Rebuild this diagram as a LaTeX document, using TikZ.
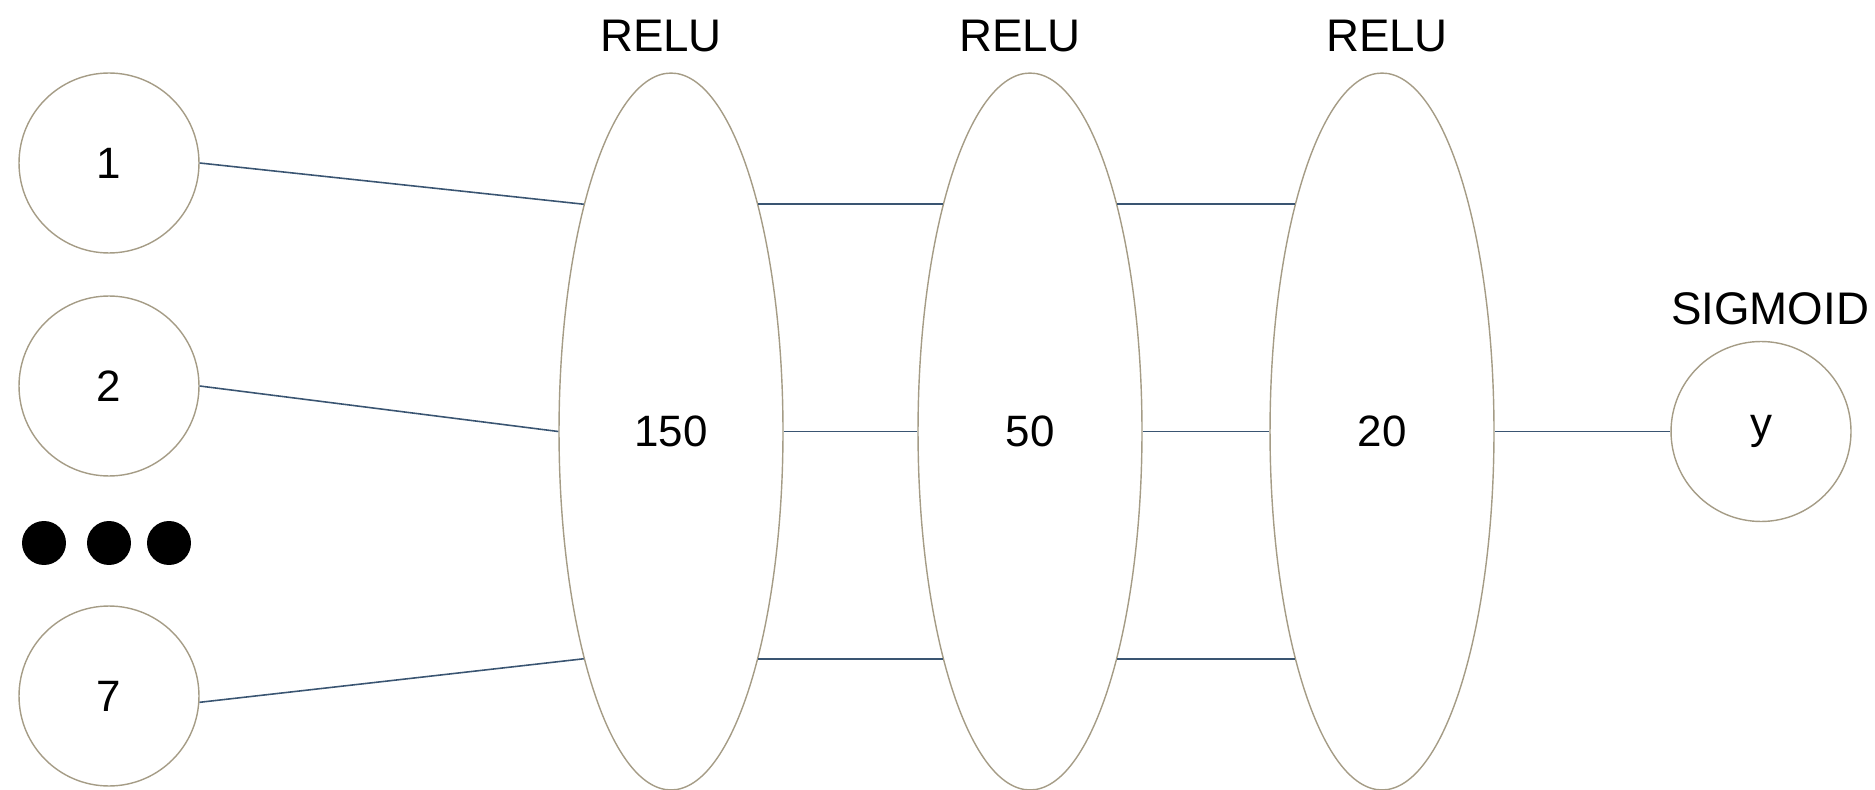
\documentclass[tikz,border=0pt]{standalone}
\usepackage{fontspec}
\setmainfont{Liberation Sans}
\usetikzlibrary{shapes.geometric}
\definecolor{rim}{HTML}{A59C86}
\definecolor{wire}{HTML}{3A5572}
\begin{document}
\begin{tikzpicture}[x=0.02cm,y=-0.02cm,
  inpt/.style={circle,draw=rim,line width=0.8pt,minimum size=3.6cm,inner sep=0pt,font=\fontsize{25}{30}\selectfont},
  layer/.style={ellipse,draw=rim,line width=0.8pt,minimum width=4.48cm,minimum height=14.34cm,inner sep=0pt,font=\fontsize{25}{30}\selectfont},
  dot/.style={circle,fill=black,minimum size=0.88cm,inner sep=0pt},
  lbl/.style={inner sep=0pt,font=\fontsize{26}{30}\selectfont},
  wire/.style={draw=wire,line width=0.9pt}]
\useasboundingbox (0,0) rectangle (1875,790);
% inputs
\node[inpt] (c1) at (109,163) {1};
\node[inpt] (c2) at (109,386) {2};
\node[inpt] (c7) at (109,696) {7};
\node[dot] (d1) at (44,543) {};
\node[dot] (d2) at (109,543) {};
\node[dot] (d3) at (169,543) {};
% layers
\node[layer] (e150) at (671,431.5) {150};
\node[layer] (e50) at (1030,431.5) {50};
\node[layer] (e20) at (1382,431.5) {20};
\node[inpt] (y) at (1761,431.5) {y};
% labels
\node[lbl] (r1) at (661,36) {RELU};
\node[lbl] (r2) at (1020,36) {RELU};
\node[lbl] (r3) at (1387,36) {RELU};
\node[lbl] (sg) at (1770,309) {SIGMOID};
% connectors
\draw[wire] (c1.east) -- (e150.111);
\draw[wire] (c2.east) -- (e150.west);
\draw[wire] (c7.-4) -- (e150.249);
\draw[wire] (e150.69) -- (e150.69 -| e50.111);
\draw[wire] (e150.east) -- (e50.west);
\draw[wire] (e150.-69) -- (e150.-69 -| e50.249);
\draw[wire] (e50.69) -- (e50.69 -| e20.111);
\draw[wire] (e50.east) -- (e20.west);
\draw[wire] (e50.-69) -- (e50.-69 -| e20.249);
\draw[wire] (e20.east) -- (y.west);
\end{tikzpicture}
\end{document}
